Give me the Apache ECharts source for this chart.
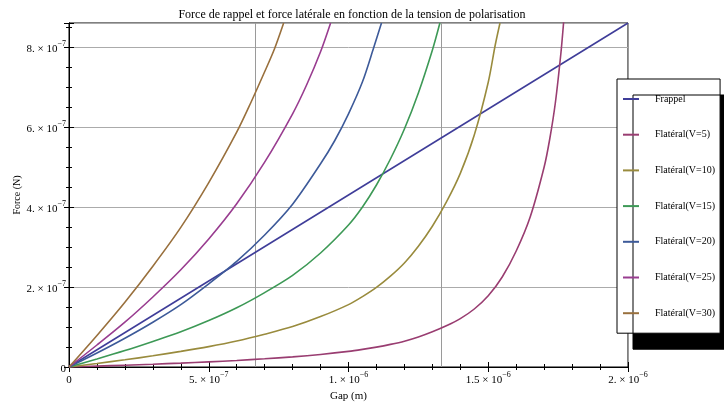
<!DOCTYPE html>
<html>
<head>
<meta charset="utf-8" />
<title>Force de rappel et force latérale</title>
<script src="https://cdn.jsdelivr.net/npm/echarts@6/dist/echarts.min.js"></script>
<style>
  body { margin: 0; background: #fff; }
  #chart { width: 724px; height: 403px; }
</style>
</head>
<body>
<div id="chart"></div>
<script>
// gap in units of 1e-6 m, force in units of 1e-7 N
const names = ['Frappel', 'Flatéral(V=5)', 'Flatéral(V=10)', 'Flatéral(V=15)',
  'Flatéral(V=20)', 'Flatéral(V=25)', 'Flatéral(V=30)'];
const colors = ['#3F3D99', '#993D71', '#998B3D', '#3D9956', '#3D5A99', '#993D90', '#99703D'];

const frappel = [[0, 0], [2, 8.6]];
const flat5 = [[0, 0], [0.1, 0.022], [0.2, 0.045], [0.3, 0.07], [0.4, 0.097], [0.5, 0.128],
  [0.6, 0.163], [0.7, 0.205], [0.8, 0.253], [0.9, 0.314], [1.0, 0.39], [1.05, 0.44], [1.1, 0.497],
  [1.15, 0.565], [1.2, 0.645], [1.25, 0.75], [1.3, 0.88], [1.35, 1.03], [1.4, 1.21], [1.45, 1.45],
  [1.5, 1.78], [1.55, 2.25], [1.6, 2.9], [1.65, 3.75], [1.7, 5.0], [1.72, 5.7], [1.74, 6.6],
  [1.76, 7.85], [1.77, 8.65]];
const flat10 = [[0, 0], [0.1, 0.088], [0.2, 0.18], [0.3, 0.28], [0.4, 0.39], [0.5, 0.51],
  [0.6, 0.65], [0.7, 0.82], [0.8, 1.01], [0.9, 1.26], [1.0, 1.56], [1.05, 1.76], [1.1, 1.99],
  [1.15, 2.27], [1.2, 2.6], [1.25, 3.02], [1.3, 3.52], [1.35, 4.12], [1.4, 4.84], [1.45, 5.8],
  [1.5, 7.12], [1.525, 8.05], [1.542, 8.6]];
const flat15 = [[0, 0], [0.1, 0.2], [0.2, 0.41], [0.3, 0.64], [0.4, 0.88], [0.5, 1.16],
  [0.6, 1.48], [0.7, 1.86], [0.8, 2.29], [0.9, 2.85], [1.0, 3.55], [1.05, 4.0], [1.1, 4.55],
  [1.15, 5.2], [1.2, 5.95], [1.25, 6.85], [1.3, 7.92], [1.327, 8.6]];
const flat20 = [[0, 0], [0.1, 0.35], [0.2, 0.72], [0.3, 1.12], [0.4, 1.56], [0.5, 2.08],
  [0.6, 2.64], [0.7, 3.3], [0.8, 4.07], [0.9, 5.08], [0.95, 5.65], [1.0, 6.33], [1.05, 7.13],
  [1.09, 7.98], [1.118, 8.6]];
const flat25 = [[0, 0], [0.1, 0.55], [0.2, 1.12], [0.3, 1.75], [0.4, 2.43], [0.5, 3.2],
  [0.6, 4.08], [0.7, 5.12], [0.8, 6.33], [0.85, 7.05], [0.9, 7.88], [0.936, 8.6]];
const flat30 = [[0, 0], [0.1, 0.79], [0.2, 1.62], [0.3, 2.52], [0.4, 3.49], [0.5, 4.61],
  [0.6, 5.87], [0.65, 6.6], [0.7, 7.38], [0.735, 7.95], [0.768, 8.6]];

const xTickMant = ['0', '5.', '1.', '1.5', '2.'];
const xTickExp = ['', '7', '6', '6', '6'];
const yTickMant = ['0', '2.', '4.', '6.', '8.'];

const serif = 'Liberation Serif';
const rich = {
  m: { fontFamily: serif, fontSize: 11, color: '#000', lineHeight: 15, verticalAlign: 'bottom' },
  e: { fontFamily: serif, fontSize: 8, color: '#000', lineHeight: 15, verticalAlign: 'top' }
};

function sci(mant, exp) {
  if (mant === '0') return '{m|0}';
  return '{m|' + mant + ' \u00d7 10}{e|\u2212' + exp + '}';
}

const allData = [frappel, flat5, flat10, flat15, flat20, flat25, flat30];

const chart = echarts.init(document.getElementById('chart'));
chart.setOption({
  animation: false,
  title: {
    text: 'Force de rappel et force latérale en fonction de la tension de polarisation',
    left: 347, top: 4, textAlign: 'center',
    textStyle: { fontFamily: serif, fontSize: 12, fontWeight: 'normal', color: '#000' }
  },
  grid: {
    left: 69, right: 96, top: 23, bottom: 36, containLabel: false, outerBoundsMode: 'none',
    show: true, borderColor: '#000', borderWidth: 1
  },
  legend: {
    orient: 'vertical', left: 617, top: 79,
    data: names,
    icon: 'rect',
    backgroundColor: '#fff', borderColor: '#000', borderWidth: 1,
    shadowColor: '#000', shadowBlur: 0, shadowOffsetX: 16, shadowOffsetY: 16,
    padding: [13, 5, 13, 6],
    itemWidth: 16, itemHeight: 2, itemGap: 21.7,
    textStyle: { fontFamily: serif, fontSize: 10, color: '#000', lineHeight: 14, padding: [0, 0, 0, 11] }
  },
  xAxis: [
    {
      type: 'value', min: 0, max: 2, interval: 0.5, position: 'bottom',
      name: 'Gap (m)', nameLocation: 'middle', nameGap: 24, nameMoveOverlap: false,
      nameTextStyle: { fontFamily: serif, fontSize: 11, color: '#000' },
      axisLine: { show: true, lineStyle: { color: '#000' } },
      axisTick: { show: true, inside: true, length: 5, lineStyle: { color: '#000' } },
      minorTick: { show: true, splitNumber: 5, length: 3, lineStyle: { color: '#000' } },
      splitLine: { show: false },
      axisLabel: {
        margin: 4, rich: rich,
        formatter: v => { const i = Math.round(v / 0.5); return sci(xTickMant[i], xTickExp[i]); }
      }
    },
    {
      type: 'value', min: 0, max: 2, interval: 0.5, position: 'top',
      axisLine: { show: true, lineStyle: { color: '#000' } },
      axisTick: { show: true, inside: true, length: 5, lineStyle: { color: '#000' } },
      minorTick: { show: true, splitNumber: 5, length: 3, lineStyle: { color: '#000' } },
      splitLine: { show: false }, axisLabel: { show: false }
    },
    {
      // grid lines at thirds
      type: 'value', min: 0, max: 2, interval: 2 / 3, position: 'bottom',
      axisLine: { show: false }, axisTick: { show: false }, axisLabel: { show: false },
      splitLine: { show: true, lineStyle: { color: '#9a9a9a', width: 1 } }
    }
  ],
  yAxis: [
    {
      type: 'value', min: 0, max: 8.6, interval: 2, position: 'left',
      name: 'Force (N)', nameLocation: 'middle', nameGap: 47, nameRotate: 90, nameMoveOverlap: false,
      nameTextStyle: { fontFamily: serif, fontSize: 10, color: '#000' },
      axisLine: { show: true, lineStyle: { color: '#000' } },
      axisTick: { show: true, inside: true, length: 5, lineStyle: { color: '#000' } },
      minorTick: { show: true, splitNumber: 4, length: 3, lineStyle: { color: '#000' } },
      splitLine: { show: true, lineStyle: { color: '#ababab', width: 1 } },
      axisLabel: {
        margin: 3, rich: rich, showMaxLabel: false,
        formatter: v => { const i = Math.round(v / 2); return yTickMant[i] ? sci(yTickMant[i], '7') : ''; }
      }
    },
    {
      type: 'value', min: 0, max: 8.6, interval: 2, position: 'right',
      axisLine: { show: true, lineStyle: { color: '#000' } },
      axisTick: { show: true, inside: true, length: 5, lineStyle: { color: '#000' } },
      minorTick: { show: true, splitNumber: 4, length: 3, lineStyle: { color: '#000' } },
      splitLine: { show: false }, axisLabel: { show: false }
    }
  ],
  series: allData.map((d, i) => ({
    name: names[i],
    type: 'line',
    data: d,
    symbol: 'none',
    smooth: 0.3,
    clip: true,
    color: colors[i],
    lineStyle: { color: colors[i], width: 1.6 }
  }))
});
</script>
</body>
</html>
